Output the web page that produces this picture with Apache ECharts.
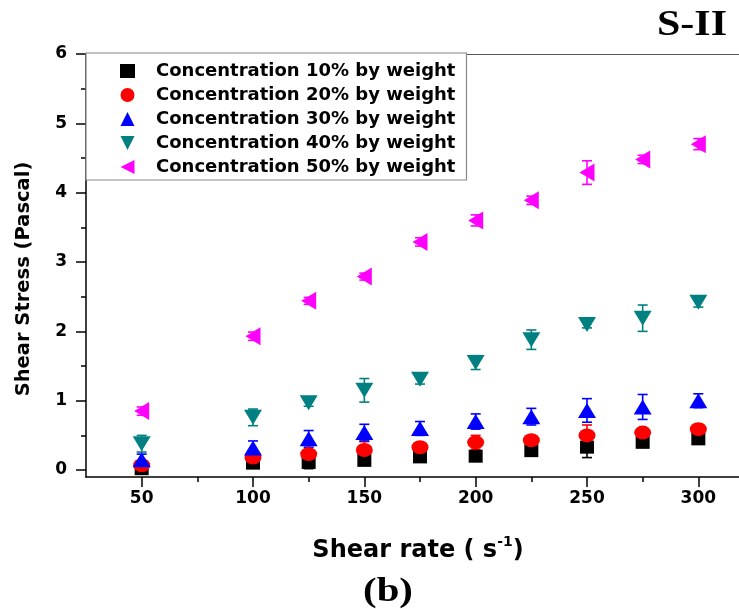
<!DOCTYPE html>
<html><head><meta charset="utf-8">
<script src="https://cdn.jsdelivr.net/npm/echarts@6/dist/echarts.min.js"></script>
<style>html,body{margin:0;padding:0;background:#fff}#c{width:739px;height:609px}</style>
</head><body><div id="c"></div>
<script>
// ---- data ----
const shearRate = [50, 100, 125, 150, 175, 200, 225, 250, 275, 300];
const c10 = [0.02, 0.10, 0.11, 0.14, 0.19, 0.20, 0.28, 0.33, 0.40, 0.45];
const c20 = [0.07, 0.18, 0.23, 0.29, 0.33, 0.40, 0.43, 0.50, 0.54, 0.59];
const c30 = [0.15, 0.32, 0.45, 0.54, 0.60, 0.70, 0.77, 0.86, 0.91, 1.00];
const c40 = [0.38, 0.76, 0.97, 1.15, 1.31, 1.55, 1.88, 2.10, 2.19, 2.42];
const c50 = [0.85, 1.93, 2.44, 2.79, 3.29, 3.60, 3.89, 4.29, 4.48, 4.70];
const e10 = [0.03, 0.06, 0.09, 0.05, 0.07, 0.07, 0.03, 0.15, 0.04, 0.07];
const e20 = [0.05, 0.10, 0.04, 0.12, 0.05, 0.10, 0.03, 0.15, 0.03, 0.07];
const e30 = [0.08, 0.10, 0.12, 0.12, 0.10, 0.11, 0.12, 0.17, 0.18, 0.10];
const e40 = [0.12, 0.12, 0.05, 0.17, 0.07, 0.10, 0.14, 0.05, 0.19, 0.07];
const e50 = [0.06, 0.06, 0.05, 0.05, 0.06, 0.08, 0.06, 0.17, 0.06, 0.08];
const seriesNames = ['Concentration 10% by weight', 'Concentration 20% by weight', 'Concentration 30% by weight', 'Concentration 40% by weight', 'Concentration 50% by weight'];
const xMajorTicks = [50, 100, 150, 200, 250, 300];
const xMinorTicks = [75, 125, 175, 225, 275];
const yMajorTicks = [0, 1, 2, 3, 4, 5, 6];
const yMinorTicks = [0.5, 1.5, 2.5, 3.5, 4.5, 5.5];

// ---- styling ----
const colors = ['#000000', '#ff0000', '#0000ff', '#008080', '#ff00ff'];
const symbols = ['rect', 'circle', 'path://M5,0 L10,10 L0,10 Z', 'path://M0,0 L10,0 L5,10 Z', 'path://M0,5 L10,0 L10,10 Z'];
const sizes = [[14, 13], [17, 14], [18, 15], [18, 15], [15, 18]];
const values = [c10, c20, c30, c40, c50];
const errs = [e10, e20, e30, e40, e50];
const SANS = 'DejaVu Sans';

const series = [];
values.forEach((vals, i) => {
  series.push({
    type: 'custom', name: 'err' + i, xAxisIndex: 0, yAxisIndex: 0, z: 2,
    data: shearRate.map((x, k) => [x, vals[k], errs[i][k]]),
    encode: { x: 0, y: 1 },
    renderItem: (params, api) => {
      const x = api.value(0), y = api.value(1), e = api.value(2);
      const top = api.coord([x, y + e]);
      const bot = api.coord([x, y - e]);
      const hw = 5;
      const st = { stroke: colors[i], lineWidth: 1.6 };
      return { type: 'group', children: [
        { type: 'line', shape: { x1: top[0], y1: top[1], x2: bot[0], y2: bot[1] }, style: st },
        { type: 'line', shape: { x1: top[0] - hw, y1: top[1], x2: top[0] + hw, y2: top[1] }, style: st },
        { type: 'line', shape: { x1: bot[0] - hw, y1: bot[1], x2: bot[0] + hw, y2: bot[1] }, style: st }
      ]};
    }
  });
});
values.forEach((vals, i) => {
  series.push({
    type: 'scatter', name: seriesNames[i], xAxisIndex: 0, yAxisIndex: 0, z: 3,
    symbol: symbols[i], symbolSize: sizes[i],
    itemStyle: { color: colors[i], opacity: 1 },
    data: shearRate.map((x, k) => [x, vals[k]])
  });
});

const chart = echarts.init(document.getElementById('c'), null, { renderer: 'canvas' });
chart.setOption({
  animation: false,
  backgroundColor: '#ffffff',
  grid: { left: 86, top: 54, width: 668, height: 423, outerBoundsMode: 'none', containLabel: false, show: false },
  legend: {
    data: seriesNames, orient: 'vertical', left: 86, top: 53,
    padding: [9, 11, 4, 34], itemGap: 6, itemWidth: 15, itemHeight: 14,
    borderColor: '#888', borderWidth: 1.2, backgroundColor: '#fff',
    textStyle: { fontFamily: SANS, fontWeight: 'bold', fontSize: 18, color: '#000', lineHeight: 18, padding: [0, 0, 0, 16] }
  },
  xAxis: [
    { type: 'value', min: 25, max: 325, position: 'bottom',
      axisLine: { show: true, onZero: false, lineStyle: { color: '#000', width: 1.5 } },
      axisTick: { show: true, inside: false, length: 10, lineStyle: { color: '#000', width: 1.5 }, customValues: xMajorTicks },
      axisLabel: { show: true, customValues: xMajorTicks, margin: 13, fontFamily: SANS, fontWeight: 'bold', fontSize: 17, color: '#000' },
      splitLine: { show: false } },
    { type: 'value', min: 25, max: 325, position: 'bottom',
      axisLine: { show: false, onZero: false },
      axisTick: { show: true, inside: false, length: 5, lineStyle: { color: '#000', width: 1.5 }, customValues: xMinorTicks },
      axisLabel: { show: false }, splitLine: { show: false } },
    { type: 'value', min: 25, max: 325, position: 'top',
      axisLine: { show: true, onZero: false, lineStyle: { color: '#555', width: 1.2 } },
      axisTick: { show: false }, axisLabel: { show: false }, splitLine: { show: false } }
  ],
  yAxis: [
    { type: 'value', min: -0.1, max: 6, position: 'left',
      axisLine: { show: true, onZero: false, lineStyle: { color: '#000', width: 1.5 } },
      axisTick: { show: true, inside: false, length: 10, lineStyle: { color: '#000', width: 1.5 }, customValues: yMajorTicks },
      axisLabel: { show: true, customValues: yMajorTicks, margin: 19, fontFamily: SANS, fontWeight: 'bold', fontSize: 17, color: '#000' },
      splitLine: { show: false } },
    { type: 'value', min: -0.1, max: 6, position: 'left',
      axisLine: { show: false, onZero: false },
      axisTick: { show: true, inside: false, length: 5, lineStyle: { color: '#000', width: 1.5 }, customValues: yMinorTicks },
      axisLabel: { show: false }, splitLine: { show: false } }
  ],
  graphic: [
    { type: 'text', x: 24, y: 279, rotation: Math.PI / 2, z: 10,
      style: { text: 'Shear Stress (Pascal)', fontFamily: SANS, fontWeight: 'bold', fontSize: 19.5, fill: '#000', align: 'center', verticalAlign: 'middle' } },
    { type: 'text', x: 418, y: 549, z: 10,
      style: { text: '{n|Shear rate ( s}{s|-1}{n|)}', align: 'center', verticalAlign: 'middle',
        rich: { n: { fontFamily: SANS, fontWeight: 'bold', fontSize: 24, fill: '#000', verticalAlign: 'bottom', lineHeight: 28 },
                s: { fontFamily: SANS, fontWeight: 'bold', fontSize: 14, fill: '#000', verticalAlign: 'top', lineHeight: 28 } } } },
    { type: 'text', x: 388, y: 592, z: 10, scaleX: 1.2,
      style: { text: '(b)', fontFamily: 'Liberation Serif', fontWeight: 'bold', fontSize: 34, fill: '#000', align: 'center', verticalAlign: 'middle' } },
    { type: 'text', x: 727, y: 26, z: 10, scaleX: 1.2,
      style: { text: 'S-II', fontFamily: 'Liberation Serif', fontWeight: 'bold', fontSize: 35, fill: '#000', align: 'right', verticalAlign: 'middle' } }
  ],
  series: series
});
</script>
</body></html>
